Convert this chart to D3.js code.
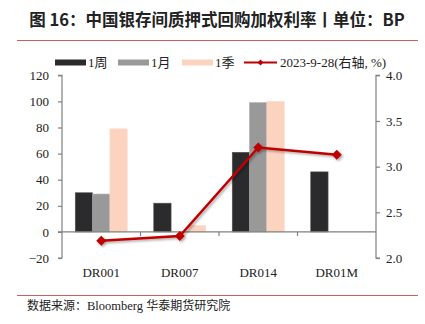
<!DOCTYPE html>
<html><head><meta charset="utf-8">
<script src="https://cdn.jsdelivr.net/npm/d3@7/dist/d3.min.js"></script>
<style>
body{margin:0;background:#fff;}
svg{display:block;}
</style></head>
<body><svg id="c" width="425" height="324"></svg>
<script>
const categories = ["DR001","DR007","DR014","DR01M"];
const seriesNames = ["1周","1月","1季"];
const week = [30, 22, 61, 46];
const month = [29, 0, 99, 0];
const quarter = [79, 5, 100, 0];
const lineName = "2023-9-28(右轴, %)";
const lineValues = [2.19, 2.24, 3.21, 3.13];
const leftTicks = [-20, 0, 20, 40, 60, 80, 100, 120];
const rightTicks = [2.0, 2.5, 3.0, 3.5, 4.0];

const colors = ["#2b2b2d", "#999999", "#fcd3bf"];
const lineColor = "#c00000";
const serif = "'Liberation Serif','Times New Roman','Noto Sans CJK SC',serif";
const svg = d3.select("#c");

const defs = svg.append("defs");
const f = defs.append("filter").attr("id","sh").attr("x","-20%").attr("y","-50%").attr("width","140%").attr("height","200%");
f.append("feDropShadow").attr("dx",1.5).attr("dy",1.5).attr("stdDeviation",1.2).attr("flood-color","#000").attr("flood-opacity",0.35);

// title
svg.append("text").attr("x", 217).attr("y", 26).attr("text-anchor","middle")
  .attr("font-family","'Noto Sans CJK SC',sans-serif").attr("font-weight","bold").attr("font-size",16.5)
  .attr("fill","#222").text("图 16：中国银存间质押式回购加权利率丨单位：BP");
svg.append("line").attr("x1",17).attr("x2",418).attr("y1",40.5).attr("y2",40.5).attr("stroke","#c9605c").attr("stroke-width",1.2);
svg.append("line").attr("x1",17).attr("x2",418).attr("y1",295.5).attr("y2",295.5).attr("stroke","#c9605c").attr("stroke-width",1.2);
const src = svg.append("text").attr("x",27).attr("y",310).attr("font-family","'Noto Sans CJK SC',sans-serif").attr("font-size",12).attr("fill","#222");
src.append("tspan").text("数据来源：");
src.append("tspan").attr("font-family", serif).attr("font-size",12.5).text("Bloomberg ");
src.append("tspan").text("华泰期货研究院");

const L = 62, R = 376, T = 75.3, B = 258;
const x = d3.scaleBand().domain(categories).range([L, R]).paddingInner(0.3375).paddingOuter(0.169);
const xc = d3.scaleBand().domain(categories).range([L, R]);
const y = d3.scaleLinear().domain([-20, 120]).range([B, T]);
const y2 = d3.scaleLinear().domain([2, 4]).range([B, T]);
const xs = d3.scaleBand().domain(seriesNames).range([0, x.bandwidth()]);

const data = [week, month, quarter];
const g = svg.append("g");
seriesNames.forEach((s, si) => {
  g.selectAll(".b"+si).data(categories.map((c,i)=>({c, v:data[si][i]})).filter(d=>d.v!==0))
    .enter().append("rect")
    .attr("x", d => x(d.c) + xs(s))
    .attr("width", xs.bandwidth())
    .attr("y", d => y(Math.max(0,d.v)))
    .attr("height", d => Math.abs(y(d.v) - y(0)))
    .attr("fill", colors[si])
    .attr("stroke", si===0 ? "#555" : (si===1 ? "#aaa" : "#fcdccc"))
    .attr("stroke-width", 0.6);
});

const axisColor = "#808080";
const la = svg.append("g").attr("transform", `translate(${L},0)`)
  .call(d3.axisLeft(y).tickValues(leftTicks).tickSize(4).tickPadding(9).tickFormat(d3.format("d")));
const ra = svg.append("g").attr("transform", `translate(${R},0)`)
  .call(d3.axisRight(y2).tickValues(rightTicks).tickSize(4).tickPadding(6).tickFormat(d3.format(".1f")));
[la, ra].forEach(a => {
  a.select(".domain").attr("stroke", axisColor).attr("stroke-width",1.2).attr("d", a===la ? `M-4,${T}H0V${B}H-4` : `M4,${T}H0V${B}H4`);
  a.selectAll(".tick line").attr("stroke", axisColor).attr("stroke-width",1.2);
  a.selectAll("text").attr("font-family", serif).attr("font-size", 13).attr("fill","#222");
});
const xa = svg.append("g").attr("transform", `translate(0,${y(0)})`)
  .call(d3.axisBottom(xc).tickSize(0).tickFormat(""));
xa.select(".domain").attr("stroke", axisColor).attr("stroke-width",1.2).attr("d", `M${L-4},0H${R}`);
xa.selectAll(".tick").remove();
svg.append("g").selectAll("line").data(categories.slice(1)).enter().append("line")
  .attr("x1", d=>xc(d)).attr("x2", d=>xc(d)).attr("y1", y(0)).attr("y2", y(0)+4)
  .attr("stroke", axisColor).attr("stroke-width",1.2);
svg.append("g").selectAll("text").data(categories).enter().append("text")
  .attr("x", d => xc(d) + xc.bandwidth()/2).attr("y", 277)
  .attr("text-anchor","middle").attr("font-family", serif).attr("font-size",13).attr("fill","#222")
  .text(d=>d);

// line
const lg = svg.append("g").attr("filter","url(#sh)");
const line = d3.line().x((d,i)=>xc(categories[i]) + xc.bandwidth()/2).y(d=>y2(d));
lg.append("path").attr("d", line(lineValues)).attr("fill","none").attr("stroke", lineColor).attr("stroke-width",2.5);
lg.selectAll("path.m").data(lineValues).enter().append("path").attr("class","m")
  .attr("transform", (d,i)=>`translate(${xc(categories[i]) + xc.bandwidth()/2},${y2(d)})`)
  .attr("d", d3.symbol().type(d3.symbolDiamond2 || d3.symbolSquare).size(64)())
  .attr("fill", lineColor);

// legend
const leg = svg.append("g");
const legItems = [
  {t: seriesNames[0], c: colors[0], x0: 55, tx: 88},
  {t: seriesNames[1], c: colors[1], x0: 118, tx: 151},
  {t: seriesNames[2], c: colors[2], x0: 182, tx: 215},
];
legItems.forEach(it => {
  leg.append("rect").attr("x", it.x0).attr("y", 59.5).attr("width", 31).attr("height", 6).attr("fill", it.c);
  leg.append("text").attr("x", it.tx).attr("y", 67).attr("font-family", serif).attr("font-size",13).attr("fill","#222").text(it.t);
});
leg.append("line").attr("x1",244).attr("x2",277).attr("y1",62.5).attr("y2",62.5).attr("stroke",lineColor).attr("stroke-width",2.2);
leg.append("path").attr("transform","translate(260.5,62.5)").attr("d", d3.symbol().type(d3.symbolDiamond2 || d3.symbolSquare).size(22)()).attr("fill",lineColor);
leg.append("text").attr("x", 280).attr("y", 67).attr("font-family", serif).attr("font-size",13).attr("fill","#222").text(lineName);
</script></body></html>
